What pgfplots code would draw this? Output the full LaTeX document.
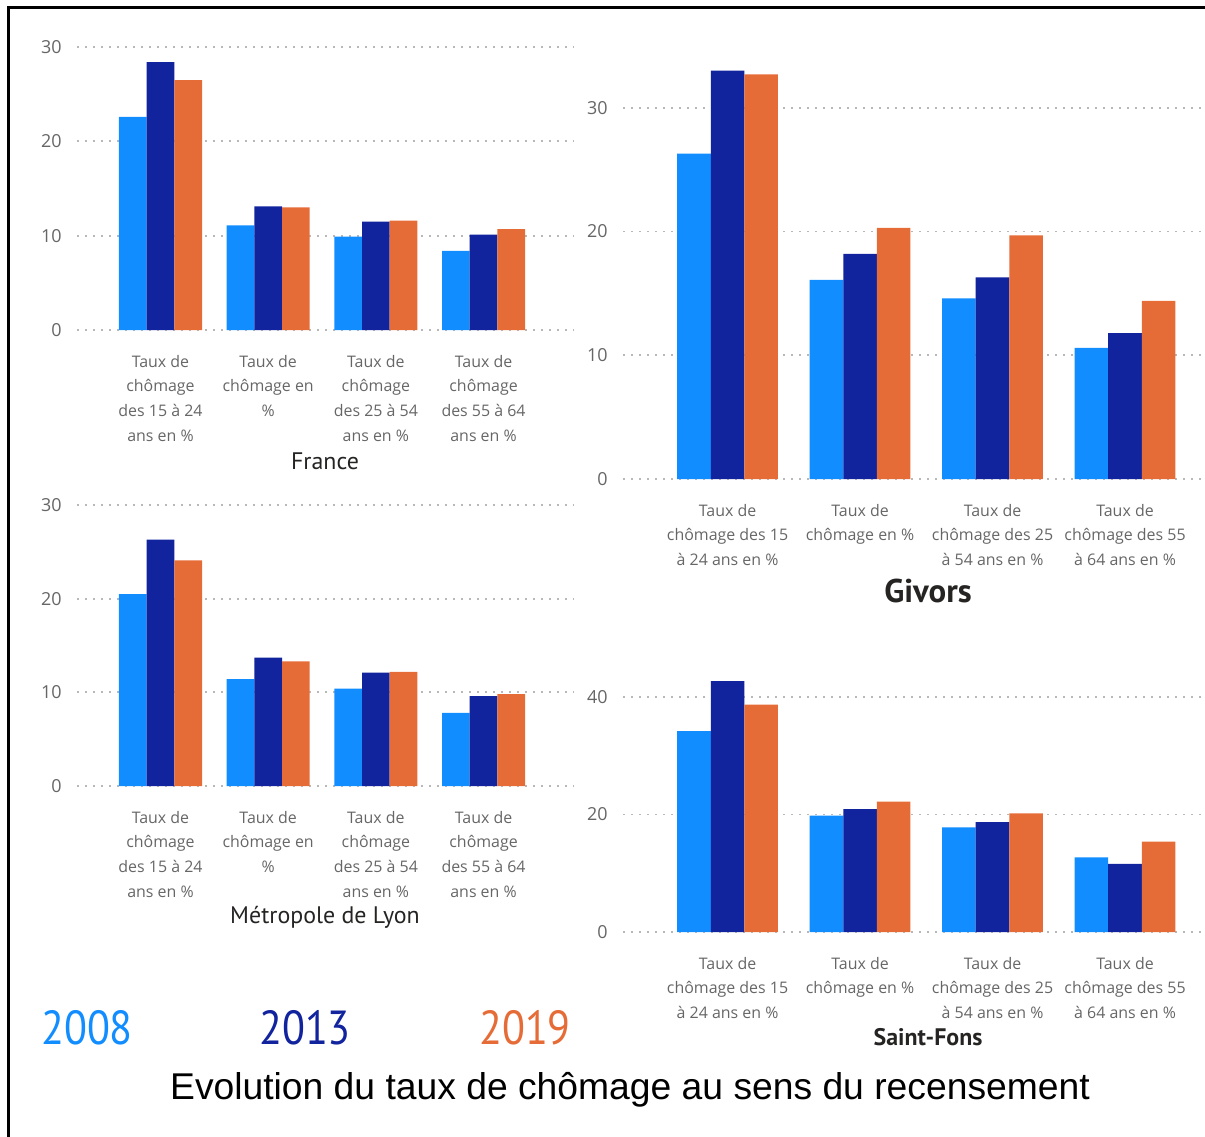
\documentclass[border=0pt]{standalone}
\usepackage{fontspec}
\setmainfont{Open Sans}
\newfontfamily\dinfont{PT Sans}
\newfontfamily\capfont{Liberation Sans}
\usepackage{pgfplots}
\usepackage{pgfplotstable}
\pgfplotsset{compat=1.18}

\definecolor{c08}{HTML}{118DFF}
\definecolor{c13}{HTML}{12239E}
\definecolor{c19}{HTML}{E66C37}
\definecolor{tickgray}{HTML}{666666}
\definecolor{titledark}{HTML}{252423}

% values: a = 2008, b = 2013, c = 2019
\pgfplotstableread{
x a b c
0 22.6 28.4 26.5
1 11.1 13.1 13.0
2 9.9 11.5 11.6
3 8.4 10.1 10.7
}\france
\pgfplotstableread{
x a b c
0 20.5 26.3 24.1
1 11.4 13.7 13.3
2 10.4 12.1 12.2
3 7.8 9.6 9.8
}\lyon
\pgfplotstableread{
x a b c
0 26.3 33.0 32.7
1 16.1 18.2 20.3
2 14.6 16.3 19.7
3 10.6 11.8 14.4
}\givors
\pgfplotstableread{
x a b c
0 34.2 42.7 38.7
1 19.8 20.9 22.2
2 17.8 18.7 20.2
3 12.7 11.6 15.4
}\fons

\pgfplotsset{
  pbi/.style={
    scale only axis,
    anchor=south west,
    ybar=0pt,
    ymin=0,
    axis line style={draw=none},
    major tick style={draw=none},
    ymajorgrids,
    grid style={black!28, line width=0.9bp, dash pattern=on 0.9bp off 3.1bp},
    xtick={0,1,2,3},
    /pgf/number format/assume math mode=true,
    yticklabel style={font=\fontsize{9}{10}\selectfont, text=tickgray, anchor=east, inner sep=0pt, xshift=-7.5bp},
    xticklabel style={font=\fontsize{8}{12.4}\selectfont, text=tickgray, align=center, anchor=north, inner sep=0pt, yshift=-8bp},
  },
  leftpanel/.style={pbi, width=248.5bp, xmin=-0.775, xmax=3.84, bar width=13.85bp,
    ymax=30, ytick={0,10,20,30},
    xticklabels={{Taux de\\chômage\\des 15 à 24\\ans en \%},{Taux de\\chômage en\\\%},{Taux de\\chômage\\des 25 à 54\\ans en \%},{Taux de\\chômage\\des 55 à 64\\ans en \%}}},
  rightpanel/.style={pbi, width=291bp, xmin=-0.789, xmax=3.604, bar width=16.8bp,
    xticklabels={{Taux de\\chômage des 15\\à 24 ans en \%},{Taux de\\chômage en \%},{Taux de\\chômage des 25\\à 54 ans en \%},{Taux de\\chômage des 55\\à 64 ans en \%}}},
}

\newcommand{\bars}[1]{%
  \addplot[fill=c08, draw=none] table[x=x, y=a]{#1};
  \addplot[fill=c13, draw=none] table[x=x, y=b]{#1};
  \addplot[fill=c19, draw=none] table[x=x, y=c]{#1};
}

\begin{document}
\begin{tikzpicture}[x=0.5bp, y=-0.5bp]
\path[use as bounding box] (0,0) rectangle (1205,1137);
\draw[line width=1.5bp] (8,1137) -- (8,8) -- (1205,8);

% France
\begin{axis}[leftpanel, at={(38.5bp,-165bp)}, height=141.5bp]
\bars{\france}
\end{axis}
% Metropole de Lyon
\begin{axis}[leftpanel, at={(38.5bp,-393bp)}, height=140.5bp]
\bars{\lyon}
\end{axis}
% Givors
\begin{axis}[rightpanel, at={(311.5bp,-239.5bp)}, height=216.5bp, ymax=35, ytick={0,10,20,30}]
\bars{\givors}
\end{axis}
% Saint-Fons
\begin{axis}[rightpanel, at={(311.5bp,-466bp)}, height=132.2bp, ymax=45, ytick={0,20,40}]
\bars{\fons}
\end{axis}

\node[text=titledark, font=\dinfont\fontsize{12}{14}\selectfont] at (325,461) {France};
\node[text=titledark, font=\dinfont\fontsize{12}{14}\selectfont] at (325,917) {Métropole de Lyon};
\node[text=titledark, font=\dinfont\bfseries\fontsize{16.5}{20}\selectfont] at (928,591) {Givors};
\node[text=titledark, font=\dinfont\bfseries\fontsize{12}{14}\selectfont] at (928,1037) {Saint-Fons};

\node[text=c08, xscale=0.88, font=\dinfont\fontsize{24}{26}\selectfont] at (87,1028) {2008};
\node[text=c13, xscale=0.88, font=\dinfont\fontsize{24}{26}\selectfont] at (305,1028) {2013};
\node[text=c19, xscale=0.88, font=\dinfont\fontsize{24}{26}\selectfont] at (525,1028) {2019};

\node[font=\capfont\fontsize{18.7}{22}\selectfont] at (630,1090) {Evolution du taux de chômage au sens du recensement};
\end{tikzpicture}
\end{document}
